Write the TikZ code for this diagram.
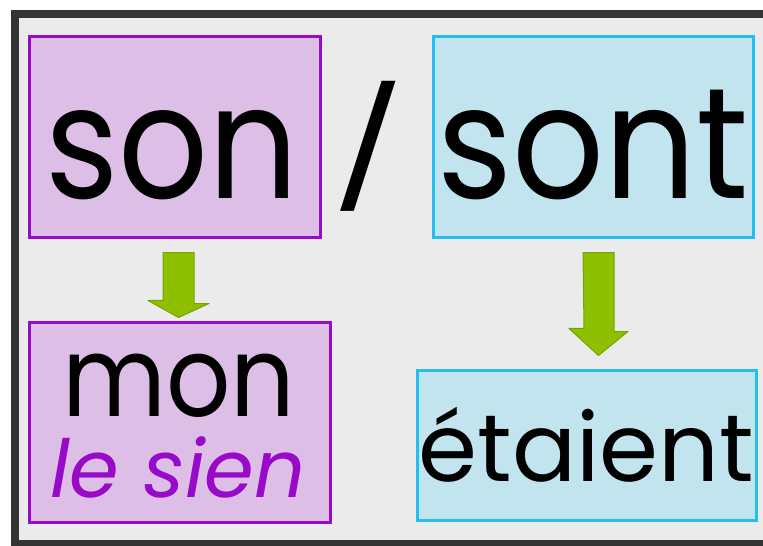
\documentclass[tikz,border=0pt]{standalone}
\usepackage{fontspec}
\setmainfont{Poppins}
\usetikzlibrary{positioning,calc}
\definecolor{framegray}{RGB}{52,52,52}
\definecolor{panelgray}{RGB}{235,235,235}
\definecolor{sonline}{RGB}{150,10,200}
\definecolor{sonfill}{RGB}{220,190,230}
\definecolor{sontline}{RGB}{35,190,240}
\definecolor{sontfill}{RGB}{194,228,238}
\definecolor{arrowgreen}{RGB}{142,192,0}
\definecolor{arrowedge}{RGB}{118,165,0}

\begin{document}
\begin{tikzpicture}[x=1bp,y=-1bp,
  sonbox/.style={draw=sonline,fill=sonfill,line width=3bp,inner sep=0pt},
  sontbox/.style={draw=sontline,fill=sontfill,line width=3bp,inner sep=0pt},
  word/.style={anchor=base,inner sep=0pt,text=black},
  greenarrow/.style={fill=arrowgreen,draw=arrowedge,line width=1bp,line join=round}]
\useasboundingbox (0,0) rectangle (763,546);
% frame
\fill[white] (0,0) rectangle (763,546);
\fill[framegray] (11,10) rectangle (763,546);
\fill[panelgray] (19,18) rectangle (763,540);
% boxes
\node[sonbox,minimum width=290bp,minimum height=200bp] (son) at (175,137) {};
\node[sontbox,minimum width=320bp,minimum height=200bp] (sont) at (593,137) {};
\node[sonbox,minimum width=300bp,minimum height=199bp] (mon) at (180,422.5) {};
\node[sontbox,minimum width=339bp,minimum height=150bp] (etaient) at (586.5,445) {};
% words
\node[word,font=\fontsize{158bp}{158bp}\selectfont] (sonw) at ($(son.south)+(-3,-40)$) {\scalebox{0.89}[1]{son}};
\node[word,font=\fontsize{158bp}{158bp}\selectfont] (sontw) at ($(sont.south)+(0,-40)$) {\scalebox{0.91}[1]{sont}};
\node[word,font=\fontsize{117bp}{117bp}\selectfont] (slash) at (369,192) {\scalebox{1.3}[1]{/}};
\node[word,font=\fontsize{112bp}{112bp}\selectfont] (monw) at ($(mon.south)+(-1,-107)$) {\scalebox{0.9}[1]{mon}};
\node[word,font=\fontsize{80bp}{80bp}\selectfont\itshape,text=sonline] (sienw) at ($(mon.south)+(-2,-26)$) {le sien};
\node[word,font=\fontsize{95bp}{95bp}\selectfont] (etaientw) at ($(etaient.south)+(0,-40)$) {étaient};
% arrows
\fill[greenarrow] ($(son.south)+(-12,14)$) -- ++(31,0) -- ++(0,51) -- ++(15,0)
  -- ($(mon.north)+(-1.5,-4)$) -- ++(-30.5,-17) -- ++(15,0) -- cycle;
\fill[greenarrow] ($(sont.south)+(-10,14)$) -- ++(31,0) -- ++(0,79) -- ++(14,0)
  -- ($(etaient.north)+(12,-13)$) -- ++(-29.5,-27) -- ++(15,0) -- cycle;
\end{tikzpicture}
\end{document}
